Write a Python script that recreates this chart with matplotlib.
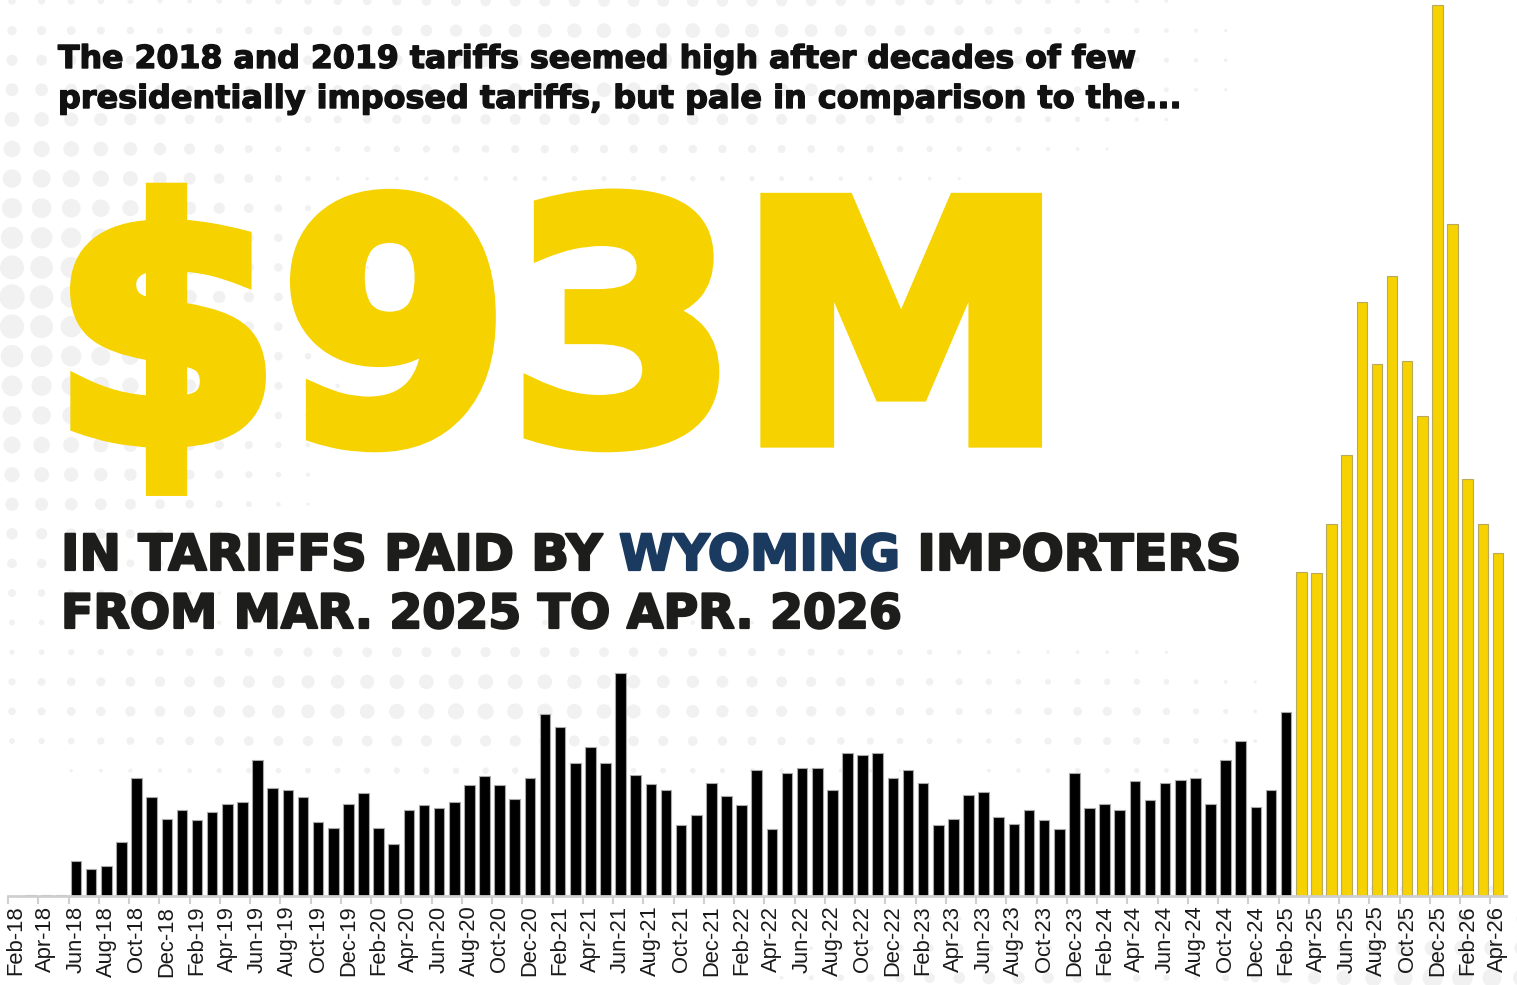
import matplotlib
matplotlib.use('Agg')
import matplotlib.pyplot as plt
from matplotlib.ticker import FixedLocator
import matplotlib.patheffects as pe
import numpy as np

W, H, DPI = 1517, 985, 100

# ---------------- data (tariffs paid, $ millions) ----------------
month_abbr = ['Jan', 'Feb', 'Mar', 'Apr', 'May', 'Jun', 'Jul', 'Aug', 'Sep', 'Oct', 'Nov', 'Dec']
months = [f"{m}-{y:02d}" for y in range(18, 27) for m in month_abbr]
months = months[months.index('Feb-18'):months.index('Apr-26') + 1]

# Feb-18 .. Feb-25 (before the new tariffs)
before_values = [
    0.00, 0.01, 0.01, 0.01, 0.47, 0.36, 0.41, 0.73, 1.59, 1.33, 1.04,          # 2018
    1.15, 1.02, 1.13, 1.24, 1.27, 1.83, 1.45, 1.42, 1.33, 0.99, 0.91, 1.24,    # 2019
    1.38, 0.91, 0.70, 1.15, 1.22, 1.18, 1.27, 1.49, 1.61, 1.49, 1.31, 1.58,    # 2020
    2.45, 2.27, 1.79, 2.00, 1.79, 3.00, 1.63, 1.50, 1.43, 0.95, 1.09, 1.52,    # 2021
    1.34, 1.22, 1.70, 0.90, 1.65, 1.72, 1.72, 1.43, 1.92, 1.90, 1.92, 1.59,    # 2022
    1.70, 1.52, 0.95, 1.04, 1.36, 1.40, 1.06, 0.97, 1.15, 1.02, 0.90, 1.65,    # 2023
    1.18, 1.24, 1.15, 1.54, 1.29, 1.52, 1.56, 1.58, 1.24, 1.83, 2.09, 1.20,    # 2024
    1.43, 2.47,                                                                 # 2025
]
# Mar-25 .. Apr-26 (total ~ $93M)
after_values = [4.35, 4.34, 5.00, 5.93, 7.99, 7.15, 8.34, 7.19, 6.46, 11.98, 9.03, 5.61, 5.00, 4.61]

tick_labels = months[::2]

header_lines = ["The 2018 and 2019 tariffs seemed high after decades of few",
                "presidentially imposed tariffs, but pale in comparison to the..."]
big_number = "$93M"
line1_parts = ["IN TARIFFS PAID BY", "WYOMING", "IMPORTERS"]
line2 = "FROM MAR. 2025 TO APR. 2026"

YELLOW = '#F6D200'
NAVY = '#1B3A5F'
DARK = '#1d1d1b'

# ---------------- figure ----------------
fig = plt.figure(figsize=(W / DPI, H / DPI), dpi=DPI)
fig.patch.set_facecolor('white')

# decorative halftone dots
bg = fig.add_axes([0, 0, 1, 1], zorder=0)
bg.set_xlim(0, W)
bg.set_ylim(H, 0)
bg.axis('off')
gx = 12 + 29.6 * np.arange(52)
gy = 1 + 29.6 * np.arange(34)
X, Y = np.meshgrid(gx, gy)
blobs = [(0, 300, 420, 420, 26),
         (650, 60, 720, 170, 18),
         (480, 700, 820, 110, 18),
         (1100, 720, 260, 110, 10),
         (1450, 985, 330, 140, 22),
         (1000, 985, 300, 100, 14)]
D = np.zeros_like(X)
for cx, cy, rx, ry, dm in blobs:
    dist = np.sqrt(((X - cx) / rx) ** 2 + ((Y - cy) / ry) ** 2)
    D = np.maximum(D, dm * (1 - dist))
mask = D > 3
bg.scatter(X[mask], Y[mask], s=(D[mask] * 72 / DPI) ** 2, c='#f1f1f1', linewidths=0)

# ---------------- bar chart ----------------
values = before_values + after_values
n = len(values)
xpos = np.arange(n)
colors = ['#000000'] * len(before_values) + [YELLOW] * len(after_values)
edges = ['#a8a8a8'] * len(before_values) + ['#b9a95a'] * len(after_values)

left_px, right_px, base_px, top_px = 8, 1505.5, 896, 5
ax = fig.add_axes([left_px / W, (H - base_px) / H, (right_px - left_px) / W, base_px / H], zorder=2)
ax.patch.set_alpha(0)
ax.bar(xpos, values, width=0.7, color=colors, edgecolor=edges, linewidth=0.8)
ax.set_xlim(-0.5, n - 0.5)
ax.set_ylim(0, max(values) * base_px / (base_px - top_px))
for s in ['top', 'right', 'left']:
    ax.spines[s].set_visible(False)
ax.spines['bottom'].set_color('#cfcfcf')
ax.spines['bottom'].set_linewidth(2)
ax.set_yticks([])
ax.xaxis.set_major_locator(FixedLocator(xpos[::2]))
ax.set_xticklabels(tick_labels, rotation=90, fontsize=15.8, family='Liberation Sans', color='#1a1a1a')
ax.xaxis.set_minor_locator(FixedLocator(xpos[::2] - 0.5))
ax.tick_params(axis='x', which='major', length=0, pad=7)
ax.tick_params(axis='x', which='minor', length=6, width=1.5, color='#cfcfcf')

# ---------------- texts ----------------
fig.canvas.draw()
renderer = fig.canvas.get_renderer()


def text_width(s, size, **kw):
    t = fig.text(0, 0, s, fontsize=size, **kw)
    w = t.get_window_extent(renderer).width
    t.remove()
    return w


def place(s, x_px, base, target_w, stroke=0.0, join='round', **kw):
    size = 40 * target_w / text_width(s, 40, **kw)
    t = fig.text(x_px / W, 1 - base / H, s, fontsize=size, va='baseline', ha='left', zorder=3, **kw)
    if stroke:
        t.set_path_effects([pe.withStroke(linewidth=stroke, foreground=kw.get('color', 'k'),
                                          joinstyle=join)])
    return size


hdr = dict(family='DejaVu Sans', weight='bold', color='#111111')
place(header_lines[0], 58, 68, 1077, stroke=1.0, **hdr)
place(header_lines[1], 58, 108, 1122, stroke=1.0, **hdr)

# big yellow number, thickened with a same-colour stroke
place(big_number, 52, 440, 1012, stroke=11, join='miter', family='DejaVu Sans', weight='bold', color=YELLOW)

big = dict(family='DejaVu Sans', weight='bold')
full1 = ' '.join(line1_parts)
fs1 = 40 * 1180 / text_width(full1, 40, **big)
x0 = 61
w_a = text_width(line1_parts[0] + ' ' + line1_parts[1], fs1, **big)
w_b = text_width(line1_parts[1], fs1, **big)
w_c = text_width(full1, fs1, **big)
w_d = text_width(line1_parts[2], fs1, **big)
for txt, xx, col in [(line1_parts[0], x0, DARK),
                     (line1_parts[1], x0 + w_a - w_b, NAVY),
                     (line1_parts[2], x0 + w_c - w_d, DARK)]:
    t = fig.text(xx / W, 1 - 570 / H, txt, fontsize=fs1, color=col, va='baseline', zorder=3, **big)
    t.set_path_effects([pe.withStroke(linewidth=1.6, foreground=col)])

place(line2, 61, 628, 840, stroke=1.6, color=DARK, **big)

fig.savefig('out.png', dpi=DPI, facecolor='white')
